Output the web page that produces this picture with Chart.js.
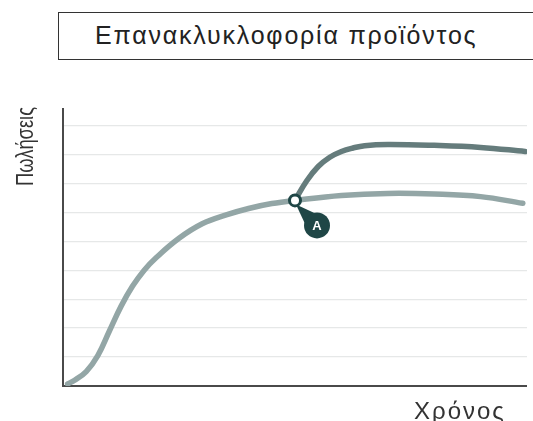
<!DOCTYPE html>
<html>
<head>
<meta charset="utf-8">
<script src="https://cdn.jsdelivr.net/npm/chart.js@4.4.1/dist/chart.umd.min.js"></script>
<style>
  html, body { margin: 0; padding: 0; background: #ffffff; }
  #wrap { position: relative; width: 533px; height: 421px; overflow: hidden; }
  #titleBox {
    position: absolute; left: 58px; top: 12px; width: 500px; height: 48px;
    border: 1.5px solid #333; box-sizing: border-box;
    font-family: "Liberation Sans", Arial, sans-serif; font-size: 25px; color: #222;
    letter-spacing: 1.8px;
    line-height: 45px; padding-left: 36px; white-space: nowrap;
  }
  canvas { position: absolute; left: 0; top: 0; }
</style>
</head>
<body>
<div id="wrap">
  <div id="titleBox">Επανακλυκλοφορία προϊόντος</div>
  <canvas id="c" width="533" height="421"></canvas>
</div>
<script>
// Sales over time: the original product curve and the relaunch curve from point A
const titleText = "Επανακλυκλοφορία προϊόντος";
const yLabel = "Πωλήσεις";
const xLabel = "Χρόνος";

const baseX = [1, 2.5, 5, 7.5, 10, 12.5, 15, 17.5, 20, 25, 30, 35, 40, 45, 50, 60, 70, 80, 90, 99.1];
const baseY = [0.07, 0.2, 0.5, 1.05, 1.9, 2.75, 3.45, 4.0, 4.42, 5.1, 5.6, 5.90, 6.13, 6.30, 6.41, 6.58, 6.65, 6.63, 6.54, 6.31];

const relaunchX = [50, 52.5, 55, 57.5, 60, 62.5, 65, 70, 80, 90, 99.6];
const relaunchY = [6.41, 7.08, 7.58, 7.90, 8.10, 8.22, 8.30, 8.34, 8.31, 8.24, 8.10];

const pointA = { x: 50, y: 6.41, label: "A" };

const toPts = (xs, ys) => xs.map((x, i) => ({ x, y: ys[i] }));

// Draws the "A" badge hanging off the relaunch point, plus the axis captions
const annotate = {
  id: 'annotate',
  afterDatasetsDraw(chart) {
    const ctx = chart.ctx;
    const xs = chart.scales.x, ys = chart.scales.y;
    const px = xs.getPixelForValue(pointA.x);
    const py = ys.getPixelForValue(pointA.y);
    const bx = px + 22, by = py + 25, r = 13;
    ctx.save();
    ctx.fillStyle = '#1f4646';
    // tail from the marker to the badge
    ctx.beginPath();
    ctx.moveTo(px + 1, py + 4);
    ctx.lineTo(bx - r * 0.2, by - r + 0.5);
    ctx.lineTo(bx - r + 0.5, by - r * 0.2);
    ctx.closePath();
    ctx.fill();
    ctx.beginPath();
    ctx.arc(bx, by, r, 0, Math.PI * 2);
    ctx.fill();
    ctx.fillStyle = '#ffffff';
    ctx.font = 'bold 13px "Liberation Sans", Arial, sans-serif';
    ctx.textAlign = 'center';
    ctx.textBaseline = 'middle';
    ctx.fillText(pointA.label, bx, by + 1);
    // marker on top of the tail
    ctx.beginPath();
    ctx.arc(px, py, 5.5, 0, Math.PI * 2);
    ctx.fillStyle = '#ffffff';
    ctx.fill();
    ctx.lineWidth = 3;
    ctx.strokeStyle = '#1f4646';
    ctx.stroke();
    ctx.restore();

    // vertical caption, condensed beside the axis top
    ctx.save();
    ctx.fillStyle = '#333';
    ctx.font = '24px "Liberation Sans", Arial, sans-serif';
    const w = ctx.measureText(yLabel).width;
    ctx.translate(33, 107);
    ctx.rotate(-Math.PI / 2);
    ctx.scale(79 / w, 1);
    ctx.textAlign = 'right';
    ctx.textBaseline = 'alphabetic';
    ctx.fillText(yLabel, 0, 0);
    ctx.restore();

    ctx.save();
    ctx.fillStyle = '#333';
    ctx.font = '24px "Liberation Sans", Arial, sans-serif';
    ctx.letterSpacing = '2px';
    ctx.textAlign = 'left';
    ctx.textBaseline = 'alphabetic';
    ctx.fillText(xLabel, 414, 419);
    ctx.restore();
  }
};

// Axis lines drawn along the chart area edges
const axisLines = {
  id: 'axisLines',
  beforeDatasetsDraw(chart) {
    const { ctx, chartArea: a } = chart;
    ctx.save();
    ctx.strokeStyle = '#4a4a4a';
    ctx.lineWidth = 2;
    ctx.beginPath();
    ctx.moveTo(a.left, a.top);
    ctx.lineTo(a.left, a.bottom);
    ctx.lineTo(a.right, a.bottom);
    ctx.stroke();
    ctx.restore();
  }
};

new Chart(document.getElementById('c'), {
  type: 'line',
  data: {
    datasets: [
      {
        label: 'relaunch',
        data: toPts(relaunchX, relaunchY),
        borderColor: '#657c7c',
        borderWidth: 5.5,
        pointRadius: 0,
        tension: 0.4,
        borderCapStyle: 'round',
        fill: false
      },
      {
        label: 'base',
        data: toPts(baseX, baseY),
        borderColor: '#93a6a6',
        borderWidth: 5.5,
        pointRadius: 0,
        tension: 0.4,
        borderCapStyle: 'round',
        fill: false
      }
    ]
  },
  options: {
    responsive: false,
    animation: false,
    layout: { padding: { left: 63, right: 6, top: 108, bottom: 35 } },
    plugins: { legend: { display: false }, tooltip: { enabled: false } },
    scales: {
      x: {
        type: 'linear', min: 0, max: 100,
        ticks: { display: false },
        grid: { display: false, drawTicks: false },
        border: { display: false }
      },
      y: {
        type: 'linear', min: 0, max: 9.6,
        afterBuildTicks(scale) {
          scale.ticks = [1, 2, 3, 4, 5, 6, 7, 8, 9].map(v => ({ value: v }));
        },
        ticks: { display: false },
        grid: { color: '#e6e8e8', lineWidth: 1.2, drawTicks: false },
        border: { display: false }
      }
    }
  },
  plugins: [axisLines, annotate]
});
</script>
</body>
</html>
